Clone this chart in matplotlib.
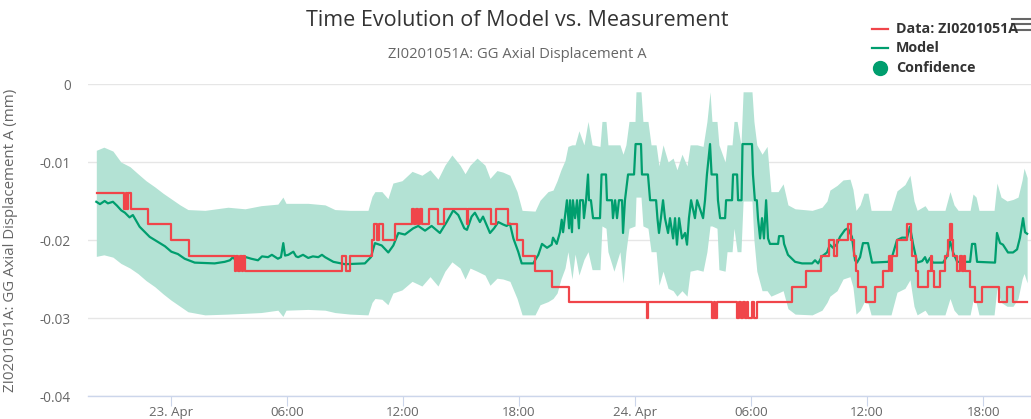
import matplotlib
matplotlib.use('Agg')
import matplotlib.pyplot as plt
import matplotlib.dates as mdates
from matplotlib.lines import Line2D
from matplotlib.ticker import FuncFormatter, MultipleLocator
import pandas as pd

# hours after 23 Apr 00:00 -> value (mm)
red_steps = [
    (-3.85, -0.014), (-2.41, -0.016), (-2.33, -0.014), (-2.28, -0.016), (-2.22, -0.014),
    (-2.07, -0.016), (-1.19, -0.018), (-0.02, -0.020), (0.92, -0.022), (3.29, -0.024),
    (3.36, -0.022), (3.47, -0.024), (3.57, -0.022), (3.67, -0.024), (3.72, -0.022),
    (3.83, -0.024), (8.83, -0.022), (9.05, -0.024), (9.28, -0.022), (10.38, -0.020),
    (10.50, -0.018), (10.66, -0.020), (10.76, -0.018), (10.97, -0.020), (11.59, -0.018),
    (12.47, -0.016), (12.57, -0.018), (12.67, -0.016), (12.78, -0.018), (12.88, -0.016),
    (12.98, -0.018), (13.34, -0.016), (13.81, -0.018), (14.12, -0.016), (15.30, -0.018),
    (15.36, -0.016), (16.54, -0.018), (16.81, -0.016), (17.45, -0.018), (17.91, -0.020),
    (18.19, -0.022), (18.83, -0.024), (19.69, -0.026), (20.57, -0.028), (24.60, -0.030),
    (24.66, -0.028), (27.98, -0.030), (28.06, -0.028), (28.14, -0.030), (28.23, -0.028),
    (29.28, -0.030), (29.38, -0.028), (29.48, -0.030), (29.59, -0.028), (29.69, -0.030),
    (29.79, -0.028), (29.84, -0.030), (30.05, -0.028), (30.13, -0.030), (30.30, -0.028),
    (32.10, -0.026), (32.82, -0.024), (33.60, -0.022), (34.01, -0.020), (34.27, -0.022),
    (34.47, -0.020), (35.01, -0.018), (35.17, -0.020), (35.33, -0.022), (35.43, -0.024),
    (35.53, -0.026), (35.95, -0.028), (36.42, -0.026), (36.83, -0.024), (37.14, -0.022),
    (37.24, -0.024), (37.29, -0.022), (37.55, -0.020), (38.09, -0.018), (38.25, -0.020),
    (38.35, -0.022), (38.53, -0.024), (38.64, -0.026), (39.16, -0.024), (39.29, -0.022),
    (39.36, -0.024), (39.47, -0.026), (39.78, -0.024), (40.03, -0.022), (40.19, -0.020),
    (40.29, -0.018), (40.37, -0.020), (40.45, -0.022), (40.63, -0.024), (40.81, -0.022),
    (40.91, -0.024), (40.99, -0.022), (41.07, -0.024), (41.35, -0.026), (41.59, -0.028),
    (41.92, -0.026), (42.85, -0.028), (43.24, -0.026), (43.53, -0.028), (44.28, -0.028),
]

model_pts = [
    (-3.86, -0.0151), (-3.67, -0.0154), (-3.43, -0.0150), (-3.26, -0.0153), (-3.00, -0.0151),
    (-2.79, -0.0156), (-2.57, -0.0162), (-2.38, -0.0165), (-2.14, -0.0171), (-1.97, -0.0168),
    (-1.62, -0.0183), (-1.10, -0.0196), (-0.58, -0.0204), (-0.31, -0.0208), (0.02, -0.0215),
    (0.36, -0.0218), (0.71, -0.0224), (1.23, -0.0229), (2.26, -0.0230), (2.78, -0.0228),
    (3.05, -0.0226), (3.21, -0.0222), (3.41, -0.0228), (3.64, -0.0227), (3.88, -0.0222),
    (4.15, -0.0224), (4.50, -0.0226), (4.71, -0.0221), (5.02, -0.0222), (5.22, -0.0219),
    (5.53, -0.0224), (5.69, -0.0222), (5.81, -0.0204), (5.90, -0.0220), (6.07, -0.0219),
    (6.33, -0.0215), (6.47, -0.0221), (6.58, -0.0222), (6.83, -0.0219), (7.10, -0.0223),
    (7.34, -0.0221), (7.62, -0.0222), (7.81, -0.0219), (7.97, -0.0222), (8.40, -0.0228),
    (9.00, -0.0231), (10.03, -0.0230), (10.34, -0.0222), (10.55, -0.0204), (10.90, -0.0207),
    (11.24, -0.0216), (11.50, -0.0207), (11.76, -0.0191), (12.10, -0.0193), (12.53, -0.0185),
    (12.79, -0.0182), (13.14, -0.0188), (13.48, -0.0182), (13.91, -0.0191), (14.26, -0.0177),
    (14.60, -0.0162), (14.86, -0.0168), (15.17, -0.0185), (15.31, -0.0187), (15.55, -0.0170),
    (15.72, -0.0165), (15.98, -0.0177), (16.14, -0.0170), (16.50, -0.0191), (16.71, -0.0185),
    (16.93, -0.0177), (17.17, -0.0180), (17.36, -0.0182), (17.53, -0.0179), (17.71, -0.0198),
    (17.96, -0.0215), (18.14, -0.0230), (18.74, -0.0230), (18.83, -0.0226), (19.00, -0.0219),
    (19.19, -0.0205), (19.45, -0.0210), (19.69, -0.0206), (19.76, -0.0197), (19.95, -0.0205),
    (20.12, -0.0190), (20.21, -0.0174), (20.28, -0.0190), (20.38, -0.0170), (20.48, -0.0149),
    (20.59, -0.0185), (20.64, -0.0149), (20.74, -0.0190), (20.79, -0.0149), (20.90, -0.0172),
    (21.00, -0.0149), (21.10, -0.0185), (21.16, -0.0149), (21.31, -0.0149), (21.36, -0.0172),
    (21.47, -0.0149), (21.57, -0.0116), (21.62, -0.0149), (21.72, -0.0149), (21.83, -0.0172),
    (22.19, -0.0172), (22.27, -0.0116), (22.50, -0.0116), (22.55, -0.0149), (22.81, -0.0149),
    (22.86, -0.0172), (22.97, -0.0149), (23.07, -0.0172), (23.17, -0.0149), (23.33, -0.0149),
    (23.38, -0.0191), (23.48, -0.0149), (23.64, -0.0116), (23.95, -0.0116), (24.03, -0.0077),
    (24.31, -0.0077), (24.36, -0.0116), (24.67, -0.0116), (24.78, -0.0149), (25.09, -0.0149),
    (25.16, -0.0172), (25.24, -0.0191), (25.34, -0.0172), (25.45, -0.0149), (25.55, -0.0172),
    (25.71, -0.0191), (25.81, -0.0172), (25.97, -0.0198), (26.07, -0.0172), (26.17, -0.0206),
    (26.28, -0.0172), (26.43, -0.0198), (26.59, -0.0191), (26.69, -0.0206), (26.79, -0.0172),
    (26.90, -0.0149), (27.10, -0.0172), (27.21, -0.0149), (27.52, -0.0172), (27.62, -0.0149),
    (27.72, -0.0116), (27.88, -0.0077), (27.96, -0.0116), (28.24, -0.0116), (28.29, -0.0149),
    (28.40, -0.0172), (28.66, -0.0172), (28.71, -0.0149), (29.02, -0.0149), (29.07, -0.0116),
    (29.28, -0.0116), (29.33, -0.0149), (29.51, -0.0149), (29.56, -0.0077), (30.05, -0.0077),
    (30.10, -0.0116), (30.20, -0.0149), (30.30, -0.0149), (30.36, -0.0172), (30.47, -0.0198),
    (30.57, -0.0172), (30.67, -0.0198), (30.78, -0.0149), (30.88, -0.0198), (30.98, -0.0205),
    (31.40, -0.0205), (31.45, -0.0195), (31.66, -0.0195), (31.71, -0.0205), (31.91, -0.0219),
    (32.28, -0.0228), (32.64, -0.0230), (33.16, -0.0230), (33.31, -0.0226), (33.47, -0.0230),
    (33.67, -0.0221), (33.93, -0.0216), (34.08, -0.0206), (34.24, -0.0210), (34.45, -0.0205),
    (34.60, -0.0196), (34.86, -0.0187), (35.01, -0.0185), (35.22, -0.0196), (35.38, -0.0226),
    (35.48, -0.0229), (35.64, -0.0222), (35.79, -0.0204), (36.05, -0.0204), (36.26, -0.0229),
    (37.09, -0.0228), (37.29, -0.0222), (37.55, -0.0200), (37.81, -0.0197), (38.07, -0.0197),
    (38.22, -0.0183), (38.38, -0.0205), (38.59, -0.0229), (38.85, -0.0227), (39.00, -0.0222),
    (39.11, -0.0229), (39.26, -0.0223), (39.41, -0.0229), (39.93, -0.0229), (40.14, -0.0221),
    (40.29, -0.0201), (40.45, -0.0216), (40.66, -0.0228), (41.33, -0.0228), (41.43, -0.0205),
    (41.59, -0.0205), (41.69, -0.0228), (42.62, -0.0229), (42.72, -0.0191), (42.88, -0.0204),
    (43.03, -0.0206), (43.29, -0.0216), (43.55, -0.0216), (43.76, -0.0212), (43.91, -0.0197),
    (44.07, -0.0172), (44.17, -0.0190), (44.28, -0.0192),
]

# hours, upper, lower of the confidence band
band_pts = [
    (-3.86, -0.0085, -0.0221), (-3.47, -0.0081, -0.0219), (-3.00, -0.0086, -0.0222),
    (-2.59, -0.0100, -0.0230), (-2.12, -0.0106, -0.0236), (-1.71, -0.0115, -0.0243),
    (-1.29, -0.0124, -0.0252), (-0.83, -0.0132, -0.0260), (-0.41, -0.0140, -0.0269),
    (0.00, -0.0147, -0.0277), (0.47, -0.0155, -0.0285), (0.88, -0.0161, -0.0292),
    (1.76, -0.0162, -0.0296), (2.95, -0.0158, -0.0295), (3.83, -0.0160, -0.0294),
    (4.66, -0.0156, -0.0293), (5.53, -0.0154, -0.0290), (5.79, -0.0145, -0.0298),
    (5.95, -0.0153, -0.0290), (7.09, -0.0153, -0.0289), (7.97, -0.0155, -0.0290),
    (8.48, -0.0161, -0.0293), (9.26, -0.0162, -0.0295), (10.19, -0.0162, -0.0296),
    (10.40, -0.0144, -0.0280), (10.55, -0.0138, -0.0275), (10.91, -0.0138, -0.0276),
    (11.22, -0.0147, -0.0283), (11.48, -0.0127, -0.0268), (11.95, -0.0124, -0.0264),
    (12.47, -0.0112, -0.0253), (12.98, -0.0117, -0.0259), (13.40, -0.0110, -0.0247),
    (13.81, -0.0122, -0.0259), (14.17, -0.0104, -0.0240), (14.53, -0.0091, -0.0228),
    (14.95, -0.0104, -0.0236), (15.21, -0.0115, -0.0250), (15.47, -0.0104, -0.0236),
    (15.83, -0.0095, -0.0240), (16.24, -0.0104, -0.0245), (16.50, -0.0121, -0.0258),
    (16.86, -0.0111, -0.0249), (17.17, -0.0113, -0.0250), (17.53, -0.0117, -0.0253),
    (17.90, -0.0138, -0.0275), (18.16, -0.0162, -0.0296), (18.83, -0.0163, -0.0296),
    (19.09, -0.0149, -0.0283), (19.50, -0.0138, -0.0279), (19.76, -0.0136, -0.0275),
    (19.97, -0.0124, -0.0268), (20.17, -0.0110, -0.0250), (20.38, -0.0098, -0.0236),
    (20.53, -0.0080, -0.0215), (20.74, -0.0078, -0.0250), (20.90, -0.0078, -0.0218),
    (21.10, -0.0060, -0.0245), (21.36, -0.0078, -0.0225), (21.57, -0.0048, -0.0215),
    (21.78, -0.0078, -0.0238), (22.19, -0.0080, -0.0238), (22.29, -0.0048, -0.0182),
    (22.50, -0.0048, -0.0185), (22.60, -0.0078, -0.0215), (22.91, -0.0078, -0.0240),
    (23.22, -0.0078, -0.0215), (23.38, -0.0090, -0.0255), (23.53, -0.0078, -0.0215),
    (23.69, -0.0048, -0.0185), (24.00, -0.0048, -0.0182), (24.05, -0.0010, -0.0145),
    (24.31, -0.0010, -0.0145), (24.41, -0.0048, -0.0182), (24.67, -0.0048, -0.0185),
    (24.83, -0.0078, -0.0215), (25.09, -0.0078, -0.0215), (25.24, -0.0105, -0.0258),
    (25.45, -0.0078, -0.0240), (25.71, -0.0100, -0.0262), (25.97, -0.0095, -0.0265),
    (26.17, -0.0110, -0.0272), (26.43, -0.0090, -0.0265), (26.69, -0.0105, -0.0272),
    (26.85, -0.0078, -0.0240), (27.21, -0.0078, -0.0238), (27.52, -0.0080, -0.0240),
    (27.72, -0.0048, -0.0215), (27.88, -0.0010, -0.0182), (27.98, -0.0048, -0.0182),
    (28.24, -0.0048, -0.0185), (28.34, -0.0078, -0.0238), (28.66, -0.0100, -0.0240),
    (28.76, -0.0078, -0.0215), (29.02, -0.0078, -0.0215), (29.12, -0.0048, -0.0185),
    (29.28, -0.0048, -0.0215), (29.48, -0.0078, -0.0215), (29.59, -0.0010, -0.0150),
    (30.05, -0.0010, -0.0150), (30.15, -0.0048, -0.0200), (30.30, -0.0078, -0.0240),
    (30.57, -0.0090, -0.0265), (30.83, -0.0080, -0.0265), (31.03, -0.0138, -0.0272),
    (31.40, -0.0138, -0.0268), (31.66, -0.0128, -0.0265), (31.91, -0.0155, -0.0288),
    (32.28, -0.0160, -0.0295), (33.16, -0.0162, -0.0296), (33.67, -0.0158, -0.0290),
    (33.93, -0.0150, -0.0280), (34.08, -0.0136, -0.0272), (34.45, -0.0130, -0.0265),
    (34.76, -0.0123, -0.0250), (35.12, -0.0122, -0.0247), (35.27, -0.0135, -0.0260),
    (35.43, -0.0162, -0.0295), (35.64, -0.0155, -0.0290), (35.84, -0.0140, -0.0280),
    (36.05, -0.0140, -0.0281), (36.21, -0.0162, -0.0296), (37.24, -0.0162, -0.0296),
    (37.55, -0.0137, -0.0267), (37.96, -0.0129, -0.0262), (38.22, -0.0117, -0.0251),
    (38.43, -0.0150, -0.0285), (38.59, -0.0162, -0.0296), (39.00, -0.0156, -0.0290),
    (39.16, -0.0162, -0.0296), (40.03, -0.0162, -0.0296), (40.29, -0.0138, -0.0275),
    (40.50, -0.0155, -0.0290), (40.71, -0.0162, -0.0296), (41.33, -0.0162, -0.0296),
    (41.48, -0.0141, -0.0278), (41.64, -0.0145, -0.0280), (41.79, -0.0162, -0.0296),
    (42.57, -0.0162, -0.0296), (42.72, -0.0127, -0.0262), (42.93, -0.0145, -0.0280),
    (43.24, -0.0150, -0.0285), (43.55, -0.0148, -0.0285), (43.81, -0.0145, -0.0275),
    (44.02, -0.0123, -0.0250), (44.12, -0.0108, -0.0243), (44.28, -0.0120, -0.0255),
]

legend_labels = ['Data: ZI0201051A', 'Model', 'Confidence']

t0 = pd.Timestamp('2019-04-23 00:00')
def to_time(hours):
    return t0 + pd.to_timedelta(list(hours), unit='h')

plt.rcParams['font.family'] = ['Open Sans', 'DejaVu Sans']
plt.rcParams['axes.unicode_minus'] = False

red_c = '#f0454a'
green_c = '#009e6e'
band_c = '#b3e2d4'

W, H = 1031, 419
fig = plt.figure(figsize=(W / 100, H / 100), dpi=100)
ax = fig.add_axes([88 / W, 23 / H, 943 / W, 312 / H])

bh, bhi, blo = zip(*band_pts)
ax.fill_between(to_time(bh), blo, bhi, color=band_c, lw=0, zorder=1)

mh, mv = zip(*model_pts)
ax.plot(to_time(mh), mv, color=green_c, lw=1.6, zorder=3)

rh, rv = zip(*red_steps)
ax.step(to_time(rh), rv, where='post', color=red_c, lw=1.6, zorder=4)

ax.set_ylim(-0.04, 0)
ax.set_xlim(to_time([-4.29])[0], to_time([44.48])[0])
ax.yaxis.set_major_locator(MultipleLocator(0.01))
ax.yaxis.set_major_formatter(FuncFormatter(lambda v, _: '0' if abs(v) < 1e-9 else '%.2f' % v))
ax.grid(axis='y', color='#e6e6e6', lw=1, zorder=0)
ax.set_axisbelow(True)

ax.xaxis.set_major_locator(mdates.HourLocator(byhour=[0, 6, 12, 18]))
def xfmt(v, _):
    d = mdates.num2date(v)
    return d.strftime('%d. %b').lstrip('0') if d.hour == 0 else d.strftime('%H:%M')
ax.xaxis.set_major_formatter(FuncFormatter(xfmt))

for s in ['top', 'right', 'left']:
    ax.spines[s].set_visible(False)
ax.spines['bottom'].set_color('#ccd6eb')
ax.spines['bottom'].set_linewidth(1)
ax.tick_params(axis='x', length=7.2, color='#ccd6eb', labelcolor='#666666', labelsize=9.5, pad=0)
ax.tick_params(axis='y', length=0, labelcolor='#666666', labelsize=9.8, pad=12.5)

ax.set_ylabel('ZI0201051A: GG Axial Displacement A (mm)', color='#666666', fontsize=10.8)
ax.yaxis.set_label_coords(-70 / 943, 0.5)

fig.text(517 / W, 1 - 20 / H, 'Time Evolution of Model vs. Measurement', ha='center', va='center',
         color='#333333', fontsize=15.5)
fig.text(517 / W, 1 - 55 / H, 'ZI0201051A: GG Axial Displacement A', ha='center', va='center',
         color='#666666', fontsize=10.6)

# legend
ys = [29, 48, 68]
fig.add_artist(Line2D([872 / W, 888 / W], [1 - ys[0] / H] * 2, color=red_c, lw=1.6))
fig.add_artist(Line2D([872 / W, 888 / W], [1 - ys[1] / H] * 2, color=green_c, lw=1.6))
fig.add_artist(Line2D([880 / W], [1 - ys[2] / H], marker='o', ms=10, color=green_c, lw=0))
for y, lab in zip(ys, legend_labels):
    fig.text(896 / W, 1 - y / H, lab, ha='left', va='center', color='#333333',
             fontsize=10.3, fontweight='bold')

# menu icon
for y in [19, 24.5, 30]:
    fig.add_artist(Line2D([1012 / W, 1031 / W], [1 - y / H] * 2, color='#666666', lw=1.5))

fig.savefig('out.png', dpi=100)
